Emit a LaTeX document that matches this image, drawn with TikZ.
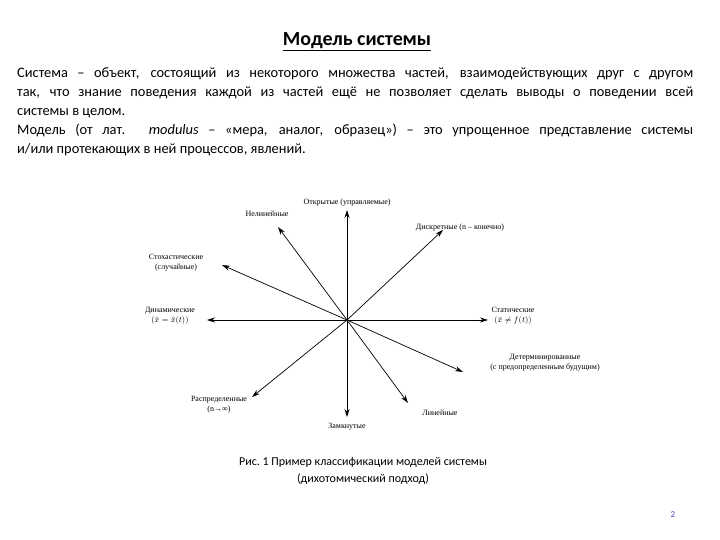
\documentclass[tikz,border=0pt]{standalone}
\usepackage{fontspec}
\setmainfont{Carlito}
\newfontfamily\tms{Liberation Serif}
\usetikzlibrary{arrows.meta}
\begin{document}
\begin{tikzpicture}[x=1pt,y=1pt,
  ax/.style={-{Stealth[length=8pt,width=5pt]},line width=0.7pt},
  lab/.style={font=\tms\fontsize{8}{10}\selectfont,align=center,inner sep=0pt}]
\useasboundingbox (0,-540) rectangle (720,0);
\node[font=\bfseries\fontsize{20}{24}\selectfont] (title) at (357,-42) {\underline{Модель системы}};
\node[anchor=north west,text width=676pt,align=justify,inner sep=0pt,font=\fontsize{14.4}{19}\selectfont] (body) at (17,-68)
{Система – объект, состоящий из некоторого множества частей, взаимодействующих друг с другом\linebreak
так, что знание поведения каждой из частей ещё не позволяет сделать выводы о поведении всей\linebreak
системы в целом.\par
Модель (от лат. \textit{modulus} – «мера, аналог, образец») – это упрощенное представление системы\linebreak
и/или протекающих в ней процессов, явлений.};
\coordinate (o) at (347,-320);
\coordinate (up) at (347,-210);
\coordinate (dn) at (347,-417);
\coordinate (lf) at (207,-320);
\coordinate (rt) at (488,-320);
\coordinate (nl) at (278,-227);
\coordinate (ds) at (443,-230);
\coordinate (st) at (222,-265);
\coordinate (dt) at (463,-372);
\coordinate (rs) at (252,-397);
\coordinate (ln) at (408,-403);
\draw[ax] (o) -- (up);
\draw[ax] (o) -- (dn);
\draw[ax] (o) -- (lf);
\draw[ax] (o) -- (rt);
\draw[ax] (o) -- (nl);
\draw[ax] (o) -- (ds);
\draw[ax] (o) -- (st);
\draw[ax] (o) -- (dt);
\draw[ax] (o) -- (rs);
\draw[ax] (o) -- (ln);
\node[lab] (l1) at (347,-203) {Открытые (управляемые)};
\node[lab] (l2) at (267,-214) {Нелинейные};
\node[lab] (l3) at (460,-228) {Дискретные (n – конечно)};
\node[lab] (l4) at (176,-263) {Стохастические\\(случайные)};
\node[lab] (l5) at (170,-316) {Динамические\\$(\bar{x}=\bar{x}(t))$};
\node[lab] (l6) at (513,-316) {Статические\\$(\bar{x}\neq f(t))$};
\node[lab] (l7) at (545,-363) {Детерминированные\\(с предопределенным будущим)};
\node[lab] (l8) at (219,-405) {Распределенные\\(n→∞)};
\node[lab] (l9) at (440,-413) {Линейные};
\node[lab] (l10) at (347,-427) {Замкнутые};
\node[align=center,font=\fontsize{12}{17}\selectfont] (cap) at (363,-471) {Рис.~1 Пример классификации моделей системы\\(дихотомический подход)};
\node[font=\fontsize{9}{10}\selectfont,text=blue!40!gray] (pg) at (673,-515) {2};
\end{tikzpicture}
\end{document}
